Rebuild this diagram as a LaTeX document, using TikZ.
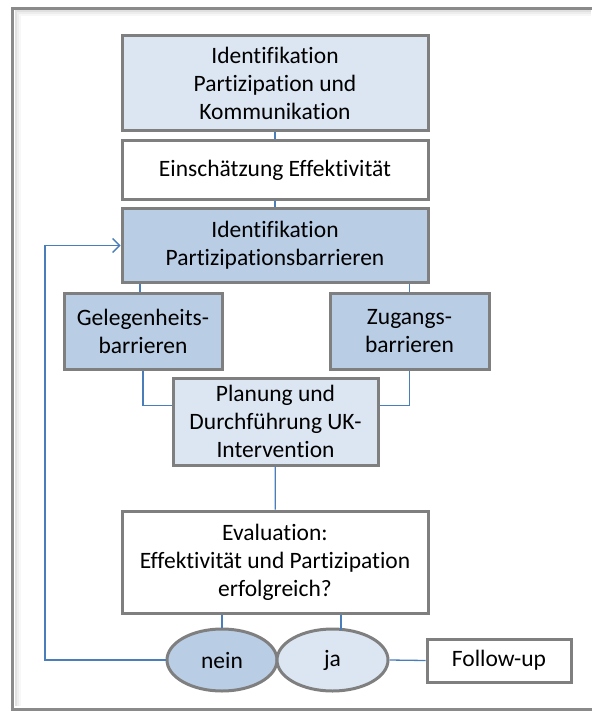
\documentclass[tikz,border=0pt]{standalone}
\usepackage{fontspec}
\setmainfont{Carlito}[Ligatures=NoCommon]
\usetikzlibrary{shapes.geometric,arrows.meta}
\definecolor{lightfill}{HTML}{DCE6F2}
\definecolor{midfill}{HTML}{B9CDE5}
\definecolor{boxline}{HTML}{7F7F7F}
\definecolor{conn}{HTML}{4A7EBB}
\definecolor{framecol}{HTML}{8A8A8A}
\tikzset{
  box/.style={draw=boxline, line width=3pt, rectangle, inner sep=0pt, align=center,
    font=\fontsize{23.5}{28}\selectfont, text=black},
  oval/.style={draw=boxline, line width=3pt, ellipse, inner sep=0pt, align=center,
    minimum width=110pt, minimum height=62pt, font=\fontsize{23.5}{28}\selectfont, text=black},
  conline/.style={draw=conn, line width=1.3pt},
  framebar/.style={draw=framecol, line width=3pt},
}
\begin{document}
\begin{tikzpicture}[x=1pt,y=-1pt]
\useasboundingbox (0,0) rectangle (591,711);
% frame with soft inner shadow
\draw[black!12, line width=2pt] (591,11.5) -- (15.5,11.5) -- (15.5,706);
\draw[black!7, line width=2pt] (591,13.5) -- (17.5,13.5) -- (17.5,706);
\draw[black!3, line width=2pt] (591,15.5) -- (19.5,15.5) -- (19.5,706);
\draw[framebar] (592,8.5) -- (12.5,8.5) -- (12.5,709.5) -- (592,709.5);

% nodes
\node[box, fill=lightfill, minimum width=306pt, minimum height=95pt] (b1) at (275,83.5)
  {Identifikation\\Partizipation und\\Kommunikation};
\node[box, fill=white, minimum width=306pt, minimum height=59pt] (b2) at (275,170.5)
  {Einschätzung Effektivität};
\node[box, fill=midfill, minimum width=306pt, minimum height=73pt] (b3) at (275,245.5)
  {Identifikation\\Partizipationsbarrieren};
\node[box, fill=midfill, minimum width=158pt, minimum height=76pt] (gel) at (143,331)
  {Gelegenheits-\\barrieren};
\node[box, fill=midfill, minimum width=159pt, minimum height=76pt] (zug) at (409.5,331)
  {Zugangs-\\barrieren};
\node[box, fill=lightfill, minimum width=205pt, minimum height=87pt] (plan) at (275.5,421.5)
  {Planung und\\Durchführung UK-\\Intervention};
\node[box, fill=white, minimum width=306pt, minimum height=102pt] (eval) at (275,562)
  {Evaluation:\\Effektivität und Partizipation\\erfolgreich?};
\node[oval, fill=midfill] (nein) at (222,660) {nein};
\node[oval, fill=lightfill, minimum width=111pt] (ja) at (332.5,660) {ja};
\node[box, fill=white, minimum width=144pt, minimum height=43pt] (fu) at (499,660.5) {Follow-up};

% helper coordinates
\coordinate (loop) at (45,660);
\coordinate (jatop) at (341,630);

% connectors
\draw[conline] (b1) -- (b2);
\draw[conline] (b2) -- (b3);
\draw[conline] (b3.south -| 140,0) -- (gel.north -| 140,0);
\draw[conline] (b3.south -| zug.north) -- (zug.north);
\draw[conline] (gel.south) |- ([yshift=16pt]plan.west);
\draw[conline] (zug.south) |- ([yshift=16pt]plan.east);
\draw[conline] (plan) -- (eval);
\draw[conline] (eval.south -| nein.north) -- (nein.north);
\draw[conline] (eval.south -| jatop) -- (jatop);
\draw[conline] (ja.east) -- (fu.west);
\draw[conline, -{Straight Barb[length=7pt,width=14pt,line width=1.3pt]}]
  (nein.west) -- (loop) |- (b3.west);
\end{tikzpicture}
\end{document}
